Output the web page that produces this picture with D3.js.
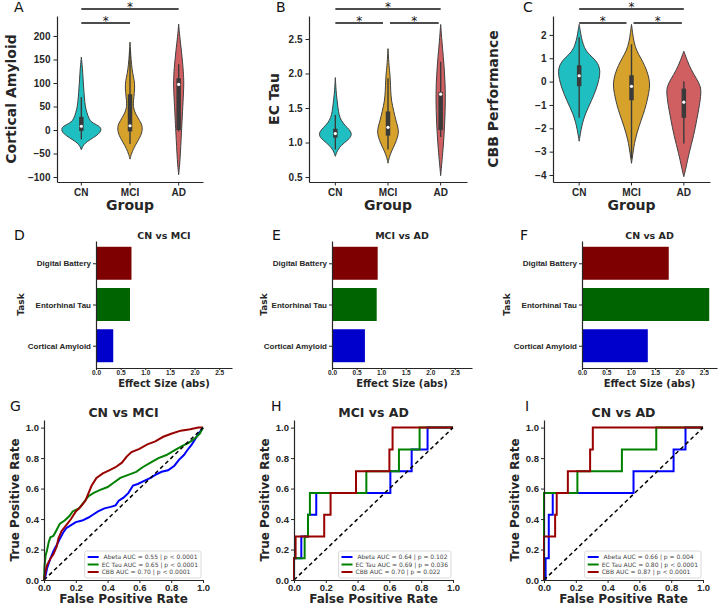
<!DOCTYPE html>
<html>
<head>
<meta charset="utf-8">
<script src="https://cdn.jsdelivr.net/npm/d3@7"></script>
<style>
    body { margin: 0; background: #fff; }
    svg { display: block; font-family: "DejaVu Sans", sans-serif; }
</style>
</head>
<body>
<div class="canvas"></div>
<script>
// Groups
const groups = ['CN', 'MCI', 'AD'];
const groupColors = ['#1fbfc1', '#d6a22b', '#d05f62'];

// Violin profiles: [value, half width as share of half band]
const amyloidCN = [[-42,0],[-35,0.05],[-28,0.15],[-20,0.38],[-12,0.62],[-5,0.78],[2,0.82],[8,0.75],[14,0.5],[20,0.35],[30,0.27],[45,0.18],[60,0.14],[80,0.11],[100,0.08],[120,0.06],[140,0.03],[155,0]];
const amyloidMCI = [[-62,0],[-52,0.05],[-40,0.14],[-25,0.3],[-12,0.45],[0,0.51],[10,0.5],[20,0.4],[32,0.25],[45,0.15],[55,0.13],[70,0.16],[90,0.2],[105,0.18],[120,0.11],[140,0.06],[160,0.03],[175,0.015],[187,0]];
const amyloidAD = [[-95,0],[-75,0.04],[-50,0.07],[-20,0.1],[10,0.13],[50,0.17],[90,0.21],[110,0.21],[140,0.17],[170,0.11],[200,0.04],[225,0]];
const tauCN = [[0.8,0],[0.85,0.04],[0.92,0.13],[1.0,0.35],[1.06,0.55],[1.12,0.63],[1.18,0.55],[1.25,0.36],[1.32,0.22],[1.4,0.14],[1.5,0.1],[1.6,0.07],[1.7,0.04],[1.8,0.02],[1.94,0]];
const tauMCI = [[0.7,0],[0.78,0.04],[0.88,0.14],[0.98,0.27],[1.08,0.37],[1.15,0.4],[1.22,0.38],[1.32,0.3],[1.45,0.22],[1.6,0.13],[1.75,0.1],[1.9,0.09],[2.0,0.07],[2.15,0.03],[2.36,0]];
const tauAD = [[0.52,0],[0.65,0.03],[0.85,0.08],[1.05,0.12],[1.25,0.15],[1.45,0.17],[1.65,0.18],[1.85,0.17],[2.05,0.14],[2.25,0.1],[2.45,0.05],[2.71,0]];
const cbbCN = [[-2.55,0],[-2.2,0.05],[-1.9,0.1],[-1.4,0.22],[-0.8,0.48],[-0.3,0.66],[0.1,0.76],[0.45,0.81],[0.8,0.72],[1.05,0.5],[1.3,0.26],[1.6,0.15],[1.9,0.08],[2.2,0.04],[2.45,0]];
const cbbMCI = [[-3.5,0],[-3.1,0.05],[-2.5,0.13],[-1.9,0.29],[-1.4,0.45],[-1.0,0.56],[-0.5,0.66],[-0.1,0.71],[0.3,0.64],[0.7,0.5],[1.0,0.36],[1.3,0.2],[1.7,0.09],[2.1,0.04],[2.45,0]];
const cbbAD = [[-4.07,0],[-3.7,0.08],[-3.1,0.19],[-2.3,0.38],[-1.6,0.5],[-1.0,0.6],[-0.5,0.66],[-0.2,0.64],[0.1,0.5],[0.5,0.28],[0.9,0.13],[1.3,0]];

// Inner boxes: [whisker low, q1, median, q3, whisker high]
const amyloidBoxes = [[-20,-2,8,28,70],[-30,-3,9,76,170],[-3,0,97,110,140]];
const tauBoxes = [[0.9,1.07,1.13,1.2,1.4],[0.9,1.1,1.22,1.45,1.93],[1.08,1.18,1.7,1.73,2.17]];
const cbbBoxes = [[-1.55,-0.2,0.25,0.7,1.9],[-3.3,-0.8,-0.2,0.27,1.6],[-2.65,-1.55,-0.88,-0.3,0]];

// Significance: [from group, to group, row]
const sigAmyloid = [[0,2,0],[0,1,1]];
const sigTau = [[0,2,0],[0,1,1],[1,2,1]];
const sigCbb = [[0,2,0],[0,1,1],[1,2,1]];

const amyloidTicks = [-100,-50,0,50,100,150,200];
const tauTicks = [0.5,1.0,1.5,2.0,2.5];
const cbbTicks = [-4,-3,-2,-1,0,1,2];

// Effect sizes
const tasks = ['Cortical Amyloid', 'Entorhinal Tau', 'Digital Battery'];
const taskColors = ['#0000cd', '#006400', '#7f0000'];
const effectCNvsMCI = [0.35, 0.69, 0.72];
const effectMCIvsAD = [0.67, 0.91, 0.93];
const effectCNvsAD = [1.35, 2.61, 1.78];
const effectTicks = [0, 0.5, 1.0, 1.5, 2.0, 2.5];

// ROC curves: [false positive rate, true positive rate]
const rocNames = ['Abeta', 'EC Tau', 'CBB'];
const rocColors = ['#0000ff', '#008000', '#990000'];
const rocCNvsMCI = [
    [[0,0],[0.01,0.03],[0.02,0.08],[0.03,0.11],[0.04,0.14],[0.06,0.19],[0.08,0.23],[0.1,0.27],[0.12,0.31],[0.14,0.34],[0.17,0.36],[0.2,0.38],[0.24,0.39],[0.28,0.41],[0.31,0.43],[0.34,0.45],[0.38,0.47],[0.42,0.48],[0.45,0.49],[0.47,0.52],[0.5,0.54],[0.53,0.57],[0.56,0.62],[0.59,0.63],[0.63,0.65],[0.67,0.67],[0.7,0.69],[0.74,0.71],[0.78,0.72],[0.82,0.75],[0.85,0.79],[0.88,0.82],[0.9,0.85],[0.93,0.89],[0.96,0.94],[0.98,0.97],[1,1]],
    [[0,0],[0.004,0.1],[0.01,0.16],[0.02,0.2],[0.03,0.25],[0.04,0.28],[0.06,0.29],[0.08,0.33],[0.1,0.37],[0.13,0.39],[0.16,0.42],[0.18,0.45],[0.22,0.47],[0.25,0.51],[0.28,0.55],[0.31,0.57],[0.35,0.59],[0.4,0.61],[0.44,0.64],[0.48,0.67],[0.53,0.69],[0.58,0.71],[0.62,0.74],[0.67,0.77],[0.72,0.8],[0.77,0.82],[0.82,0.85],[0.87,0.88],[0.91,0.9],[0.95,0.93],[0.98,0.96],[1,1]],
    [[0,0],[0.01,0.06],[0.02,0.1],[0.04,0.14],[0.06,0.17],[0.08,0.22],[0.09,0.27],[0.11,0.32],[0.14,0.36],[0.17,0.4],[0.2,0.45],[0.23,0.48],[0.26,0.52],[0.28,0.57],[0.3,0.62],[0.33,0.67],[0.37,0.7],[0.41,0.72],[0.45,0.74],[0.49,0.77],[0.52,0.81],[0.55,0.84],[0.6,0.86],[0.65,0.89],[0.7,0.91],[0.75,0.94],[0.8,0.96],[0.86,0.98],[0.92,0.99],[0.97,1],[1,1]]
];
const rocMCIvsAD = [
    [[0,0],[0,0.143],[0.046,0.143],[0.046,0.286],[0.088,0.286],[0.088,0.429],[0.14,0.429],[0.14,0.571],[0.606,0.571],[0.606,0.714],[0.74,0.714],[0.74,0.857],[0.84,0.857],[0.84,1],[1,1]],
    [[0,0],[0,0.143],[0.067,0.143],[0.067,0.286],[0.088,0.286],[0.088,0.429],[0.1,0.429],[0.1,0.571],[0.455,0.571],[0.455,0.714],[0.66,0.714],[0.66,0.857],[0.79,0.857],[0.79,1],[1,1]],
    [[0,0],[0,0.143],[0.01,0.143],[0.01,0.286],[0.19,0.286],[0.19,0.429],[0.23,0.429],[0.23,0.571],[0.39,0.571],[0.39,0.714],[0.6,0.714],[0.6,0.857],[0.62,0.857],[0.62,1],[1,1]]
];
const rocCNvsAD = [
    [[0,0],[0.01,0],[0.01,0.143],[0.03,0.143],[0.03,0.429],[0.055,0.429],[0.055,0.571],[0.563,0.571],[0.563,0.714],[0.815,0.714],[0.815,0.857],[0.89,0.857],[0.89,1],[1,1]],
    [[0,0],[0,0.571],[0.21,0.571],[0.21,0.714],[0.49,0.714],[0.49,0.857],[0.706,0.857],[0.706,1],[1,1]],
    [[0,0],[0,0.286],[0.07,0.286],[0.07,0.429],[0.08,0.429],[0.08,0.571],[0.15,0.571],[0.15,0.714],[0.29,0.714],[0.29,0.857],[0.307,0.857],[0.307,1],[1,1]]
];
const legendCNvsMCI = [' Abeta AUC = 0.55 | p < 0.0001', 'EC Tau AUC = 0.65 | p < 0.0001', 'CBB AUC = 0.70 | p < 0.0001'];
const legendMCIvsAD = [' Abeta AUC = 0.64 | p = 0.102', 'EC Tau AUC = 0.69 | p = 0.036', 'CBB AUC = 0.70 | p = 0.022'];
const legendCNvsAD = [' Abeta AUC = 0.66 | p = 0.004', 'EC Tau AUC = 0.80 | p < 0.0001', 'CBB AUC = 0.87 | p < 0.0001'];
const rocTicks = [0, 0.2, 0.4, 0.6, 0.8, 1.0];

const ink = '#262626';

const app = {
    svg: null,

    init: function() {
        app.svg = d3.select('.canvas')
            .append('svg')
            .attr('width', 720)
            .attr('height', 609);

        // Top row
        app.drawViolins({ letter: 'A', lx: 14, left: 57, right: 203, top: 16, bottom: 182, domain: [-110.6, 242.5],
            ticks: amyloidTicks, fmt: d3.format('d'), label: 'Cortical Amyloid', labelX: 10.5,
            profiles: [amyloidCN, amyloidMCI, amyloidAD], boxes: amyloidBoxes, sig: sigAmyloid });
        app.drawViolins({ letter: 'B', lx: 276, left: 309, right: 467, top: 16, bottom: 182, domain: [0.428, 2.833],
            ticks: tauTicks, fmt: d3.format('.1f'), label: 'EC Tau', labelX: 274,
            profiles: [tauCN, tauMCI, tauAD], boxes: tauBoxes, sig: sigTau });
        app.drawViolins({ letter: 'C', lx: 523, left: 553, right: 710, top: 16, bottom: 182, domain: [-4.3, 2.81],
            ticks: cbbTicks, fmt: d3.format('d'), label: 'CBB Performance', labelX: 493,
            profiles: [cbbCN, cbbMCI, cbbAD], boxes: cbbBoxes, sig: sigCbb });

        // Middle row
        app.drawBars({ letter: 'D', lx: 14, left: 96, right: 232, title: 'CN vs MCI', taskX: 20.5, values: effectCNvsMCI, xMax: 2.76 });
        app.drawBars({ letter: 'E', lx: 272, left: 332, right: 472, title: 'MCI vs AD', taskX: 263.5, values: effectMCIvsAD, xMax: 2.85 });
        app.drawBars({ letter: 'F', lx: 520, left: 582, right: 717, title: 'CN vs AD', taskX: 507, values: effectCNvsAD, xMax: 2.77 });

        // Bottom row
        app.drawRoc({ letter: 'G', lx: 10, left: 44, right: 203, title: 'CN vs MCI', labelX: 15, curves: rocCNvsMCI, legend: legendCNvsMCI });
        app.drawRoc({ letter: 'H', lx: 271, left: 294, right: 453, title: 'MCI vs AD', labelX: 265, curves: rocMCIvsAD, legend: legendMCIvsAD });
        app.drawRoc({ letter: 'I', lx: 525, left: 544, right: 703, title: 'CN vs AD', labelX: 515, curves: rocCNvsAD, legend: legendCNvsAD });
    },

    styleAxis: function(sel, size) {
        sel.select('.domain').attr('stroke', ink).attr('stroke-width', 1.2);
        sel.selectAll('.tick line').attr('stroke', ink).attr('stroke-width', 1);
        sel.selectAll('.tick text')
            .attr('fill', ink)
            .style('font-size', size + 'px')
            .style('font-weight', 'bold');
    },

    letter: function(t, x, y) {
        app.svg.append('text')
            .attr('x', x).attr('y', y)
            .attr('fill', '#111')
            .style('font-size', '14px')
            .text(t);
    },

    drawViolins: function(p) {
        const g = app.svg.append('g');
        const x = d3.scaleBand().domain(groups).range([p.left, p.right]);
        const y = d3.scaleLinear().domain(p.domain).range([p.bottom, p.top]);
        const w = d3.scaleLinear().domain([0, 1]).range([0, x.bandwidth() / 2]);
        const cx = i => x(groups[i]) + x.bandwidth() / 2;

        p.profiles.forEach((prof, i) => {
            const area = d3.area()
                .curve(d3.curveBasis)
                .y(d => y(d[0]))
                .x0(d => cx(i) - w(d[1]))
                .x1(d => cx(i) + w(d[1]));
            g.append('path')
                .attr('d', area(prof))
                .attr('fill', groupColors[i])
                .attr('stroke', '#404040')
                .attr('stroke-width', 1);

            const b = p.boxes[i];
            g.append('line')
                .attr('x1', cx(i)).attr('x2', cx(i))
                .attr('y1', y(b[0])).attr('y2', y(b[4]))
                .attr('stroke', '#3a3a3a').attr('stroke-width', 1.4);
            g.append('line')
                .attr('x1', cx(i)).attr('x2', cx(i))
                .attr('y1', y(b[1])).attr('y2', y(b[3]))
                .attr('stroke', '#3a3a3a').attr('stroke-width', 4.5);
            g.append('circle')
                .attr('cx', cx(i)).attr('cy', y(b[2]))
                .attr('r', 1.6)
                .attr('fill', '#fff');
        });

        // Axes
        const ya = g.append('g')
            .attr('transform', `translate(${p.left}, 0)`)
            .call(d3.axisLeft(y).tickValues(p.ticks).tickFormat(p.fmt).tickSize(3.5).tickSizeOuter(0).tickPadding(3));
        app.styleAxis(ya, 10);
        const xa = g.append('g')
            .attr('transform', `translate(0, ${p.bottom})`)
            .call(d3.axisBottom(x).tickSize(3.5).tickSizeOuter(0).tickPadding(3));
        app.styleAxis(xa, 10);

        g.append('text')
            .attr('transform', `translate(${p.labelX}, ${(p.top + p.bottom) / 2}) rotate(-90)`)
            .attr('text-anchor', 'middle')
            .attr('dominant-baseline', 'central')
            .attr('fill', ink)
            .style('font-size', '14px').style('font-weight', 'bold')
            .text(p.label);
        g.append('text')
            .attr('x', (p.left + p.right) / 2).attr('y', 210)
            .attr('text-anchor', 'middle')
            .attr('fill', ink)
            .style('font-size', '14px').style('font-weight', 'bold')
            .text('Group');

        // Significance bars
        const rowY = [9, 23];
        p.sig.forEach(s => {
            const shared = p.sig.some(o => o !== s && o[2] === s[2]);
            const x1 = cx(s[0]) + (shared && s[0] === 1 ? 2 : 0);
            const x2 = cx(s[1]) - (shared ? (s[1] === 1 ? 5 : 2) : 0);
            g.append('line')
                .attr('x1', x1).attr('x2', x2)
                .attr('y1', rowY[s[2]]).attr('y2', rowY[s[2]])
                .attr('stroke', '#111').attr('stroke-width', 1.5);
            g.append('text')
                .attr('x', (x1 + x2) / 2).attr('y', rowY[s[2]] + 1.5)
                .attr('text-anchor', 'middle')
                .attr('fill', '#111')
                .style('font-size', '12px')
                .text('*');
        });

        app.letter(p.letter, p.lx, 12);
    },

    drawBars: function(p) {
        const top = 241, bottom = 368;
        const g = app.svg.append('g');
        const x = d3.scaleLinear().domain([0, p.xMax]).range([p.left, p.right]);
        const y = d3.scaleLinear().domain([-0.54, 2.54]).range([bottom, top]);

        g.selectAll('.bar')
            .data(p.values)
            .enter()
            .append('rect')
            .attr('class', 'bar')
            .attr('x', x(0))
            .attr('y', (d, i) => y(i + 0.4))
            .attr('width', d => x(d) - x(0))
            .attr('height', (d, i) => y(i - 0.4) - y(i + 0.4))
            .attr('fill', (d, i) => taskColors[i]);

        const ya = g.append('g')
            .attr('transform', `translate(${p.left}, 0)`)
            .call(d3.axisLeft(y).tickValues([0, 1, 2]).tickFormat(i => tasks[i]).tickSize(3).tickSizeOuter(0).tickPadding(2));
        app.styleAxis(ya, 8);
        const xa = g.append('g')
            .attr('transform', `translate(0, ${bottom})`)
            .call(d3.axisBottom(x).tickValues(effectTicks).tickFormat(d3.format('.1f')).tickSize(2).tickSizeOuter(0).tickPadding(0.5));
        app.styleAxis(xa, 6.5);

        g.append('text')
            .attr('x', (p.left + p.right) / 2).attr('y', 239)
            .attr('text-anchor', 'middle')
            .attr('fill', ink)
            .style('font-size', '9.5px').style('font-weight', 'bold')
            .text(p.title);
        g.append('text')
            .attr('x', (p.left + p.right) / 2).attr('y', 386.5)
            .attr('text-anchor', 'middle')
            .attr('fill', ink)
            .style('font-size', '10px').style('font-weight', 'bold')
            .text('Effect Size (abs)');
        g.append('text')
            .attr('transform', `translate(${p.taskX}, ${(top + bottom) / 2}) rotate(-90)`)
            .attr('text-anchor', 'middle')
            .attr('dominant-baseline', 'central')
            .attr('fill', ink)
            .style('font-size', '9px').style('font-weight', 'bold')
            .text('Task');

        app.letter(p.letter, p.lx, 240);
    },

    drawRoc: function(p) {
        const top = 420, bottom = 580;
        const g = app.svg.append('g');
        const x = d3.scaleLinear().domain([0, 1]).range([p.left, p.right]);
        const y = d3.scaleLinear().domain([0, 1.05]).range([bottom, top]);
        const line = d3.line().x(d => x(d[0])).y(d => y(d[1]));

        p.curves.forEach((c, i) => {
            g.append('path')
                .attr('d', line(c))
                .attr('fill', 'none')
                .attr('stroke', rocColors[i])
                .attr('stroke-width', 2);
        });
        g.append('path')
            .attr('d', line([[0, 0], [1, 1]]))
            .attr('stroke', '#000')
            .attr('stroke-width', 1.5)
            .attr('stroke-dasharray', '4,3');

        const ya = g.append('g')
            .attr('transform', `translate(${p.left}, 0)`)
            .call(d3.axisLeft(y).tickValues(rocTicks).tickFormat(d3.format('.1f')).tickSize(3).tickSizeOuter(0).tickPadding(2));
        app.styleAxis(ya, 9.5);
        const xa = g.append('g')
            .attr('transform', `translate(0, ${bottom})`)
            .call(d3.axisBottom(x).tickValues(rocTicks).tickFormat(d3.format('.1f')).tickSize(3).tickSizeOuter(0).tickPadding(1));
        app.styleAxis(xa, 9.5);

        g.append('text')
            .attr('x', (p.left + p.right) / 2).attr('y', 416.5)
            .attr('text-anchor', 'middle')
            .attr('fill', ink)
            .style('font-size', '12.5px').style('font-weight', 'bold')
            .text(p.title);
        g.append('text')
            .attr('x', (p.left + p.right) / 2).attr('y', 603)
            .attr('text-anchor', 'middle')
            .attr('fill', ink)
            .style('font-size', '12px').style('font-weight', 'bold')
            .text('False Positive Rate');
        g.append('text')
            .attr('transform', `translate(${p.labelX}, ${(top + bottom) / 2}) rotate(-90)`)
            .attr('text-anchor', 'middle')
            .attr('dominant-baseline', 'central')
            .attr('fill', ink)
            .style('font-size', '12px').style('font-weight', 'bold')
            .text('True Positive Rate');

        // Legend
        const lg = g.append('g');
        const box = lg.append('rect')
            .attr('fill', '#fff').attr('fill-opacity', 0.85)
            .attr('stroke', '#d0d0d0').attr('stroke-width', 0.8)
            .attr('rx', 2);
        const texts = p.legend.map((t, i) => lg.append('text')
            .attr('y', 7.5 * i + 8)
            .attr('fill', '#444')
            .style('font-size', '6px')
            .style('white-space', 'pre')
            .text(t));
        const maxLen = d3.max(texts, t => t.node().getComputedTextLength());
        const bw = maxLen + 20, bh = 27;
        const bx = p.right - 2 - bw, by = bottom - 2 - bh;
        box.attr('x', bx).attr('y', by).attr('width', bw).attr('height', bh);
        texts.forEach((t, i) => {
            t.attr('x', bx + 17).attr('y', by + 7.5 * i + 8);
            lg.append('line')
                .attr('x1', bx + 3).attr('x2', bx + 14)
                .attr('y1', by + 7.5 * i + 6).attr('y2', by + 7.5 * i + 6)
                .attr('stroke', rocColors[i]).attr('stroke-width', 2);
        });

        app.letter(p.letter, p.lx, 411);
    },
};

document.addEventListener('DOMContentLoaded', app.init);
</script>
</body>
</html>
